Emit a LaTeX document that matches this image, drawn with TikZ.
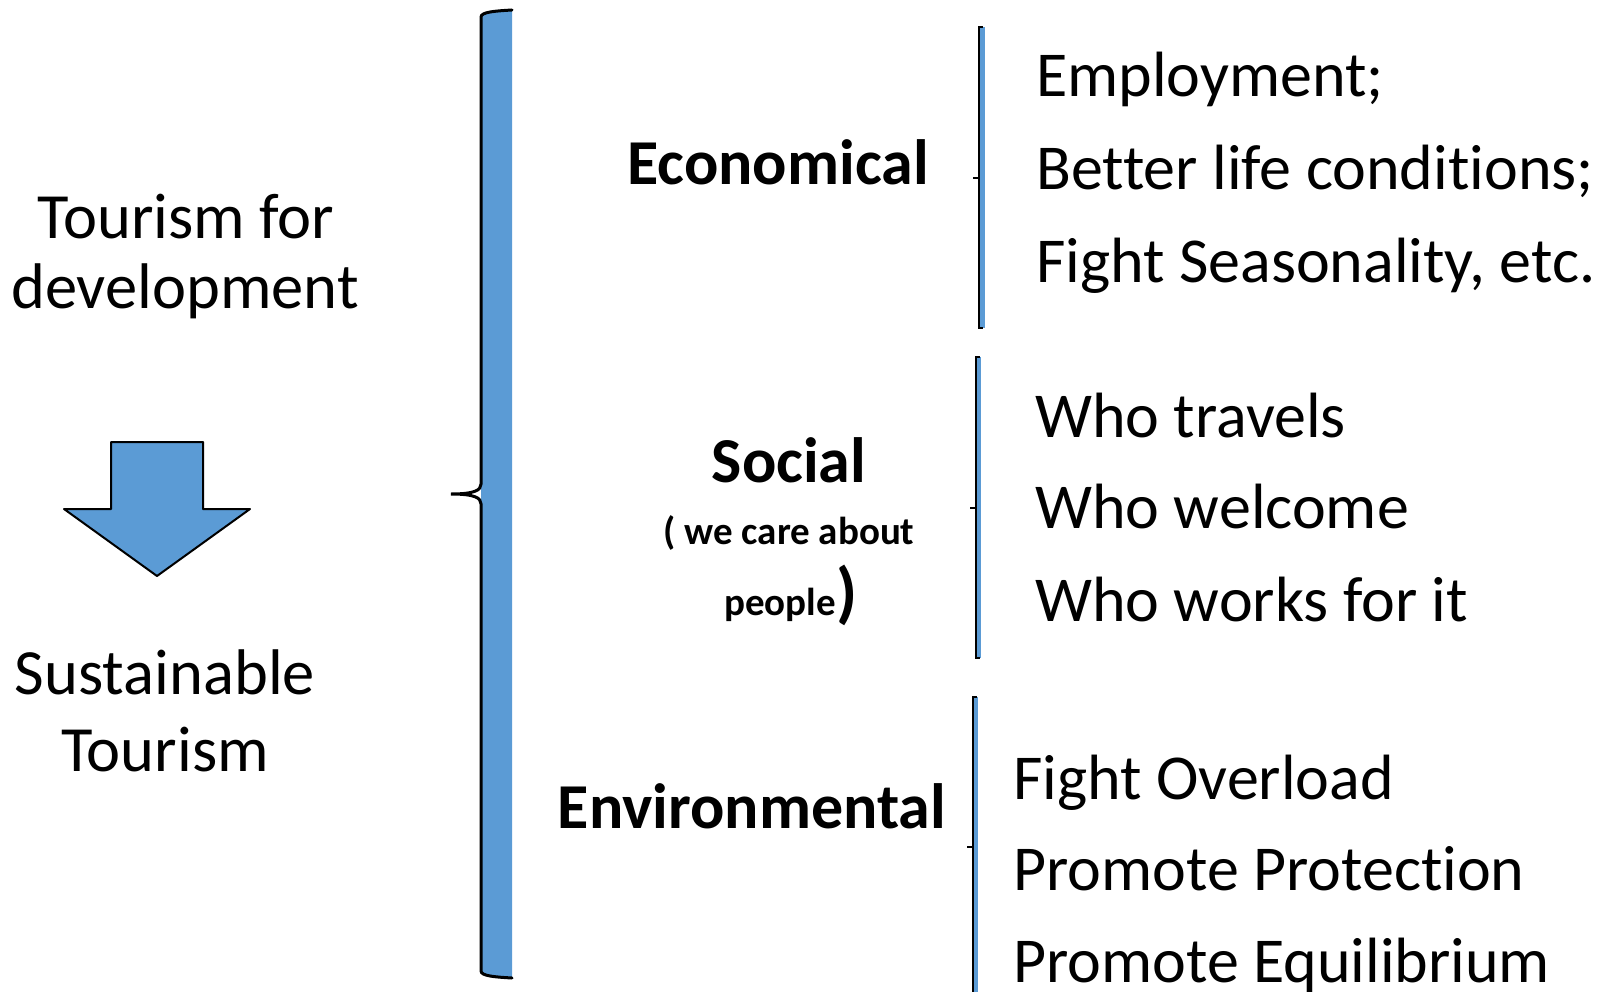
\documentclass[tikz,border=0pt]{standalone}
\usepackage{fontspec}
\setmainfont{Carlito}[Ligatures={NoCommon,NoContextual}, RawFeature={-liga;-clig;-calt;-dlig}]
\definecolor{bblue}{HTML}{5B9BD5}
\begin{document}
\begin{tikzpicture}[x=1pt,y=-1pt,
  big/.style={inner sep=0pt, anchor=base, font=\fontsize{64.5}{70}\selectfont},
  item/.style={inner sep=0pt, anchor=base west, font=\fontsize{64}{70}\selectfont},
  head/.style={inner sep=0pt, anchor=base, font=\fontsize{64}{70}\selectfont\bfseries},
  small/.style={inner sep=0pt, anchor=base, font=\fontsize{39}{45}\selectfont\bfseries},
  outl/.style={draw=black, line width=2pt, line join=round}]
\useasboundingbox (0,0) rectangle (1613,992);

% left texts
\node[big] (t1) at (186,239) {Tourism for};
\node[big] (t2) at (185,308) {development};
\node[big] (s1) at (165,694) {Sustainable};
\node[big] (s2) at (165,771) {Tourism};

% down arrow
\filldraw[fill=bblue, outl] (111,442) -- (203,442) -- (203,509) -- (250,509) -- (157,576) -- (64,509) -- (111,509) -- cycle;

% big brace
\fill[bblue] (481,16) .. controls (481,12) and (495,11) .. (512,10) -- (512,978) .. controls (495,977) and (481,976) .. (481,972) -- cycle;
\draw[line width=3pt, line cap=round] (512,10) .. controls (495,11) and (481,12) .. (481,17)
  -- (481,484) .. controls (481,490) and (475,494) .. (451,494)
  .. controls (475,494) and (481,498) .. (481,504)
  -- (481,971) .. controls (481,976) and (495,977) .. (512,978);

% small braces
\foreach \xl/\yt/\yb/\ym in {979/27/328/178, 975.7/357/658/508, 972.7/697/1000/847} {
  \fill[bblue] (\xl,\yt) rectangle (\xl+5.5,\yb);
  \draw[line width=2pt] (\xl+4,\yt) -- (\xl,\yt) -- (\xl,\yb) -- (\xl+4,\yb);
  \draw[line width=2.5pt] (\xl,\ym) -- (\xl-6,\ym);
}

% headings
\node[head] (eco) at (778,185) {Economical};
\node[head] (soc) at (789,482) {Social};
\node[small] (care) at (789,544) {( we care about};
\node[small, anchor=base east] (ppl) at (836,615) {people};
\node[inner sep=0pt, anchor=base west, font=\fontsize{68}{70}\selectfont\bfseries] (par) at (ppl.base east) {)};
\node[head] (env) at (752,828) {Environmental};

% items
\node[item] (e1) at (1036,97) {Employment;};
\node[item] (e2) at (1036,190) {Better life condi\kern0pt tions;};
\node[item] (e3) at (1036,282) {Fight Seasonality, etc.};
\node[item] (w1) at (1035,437) {Who travels};
\node[item] (w2) at (1035,528) {Who welcome};
\node[item] (w3) at (1035,621) {Who works for it};
\node[item] (v1) at (1013,799) {Fight Overload};
\node[item] (v2) at (1013,890) {Promote Protec\kern0pt tion};
\node[item] (v3) at (1013,982) {Promote Equilibrium};
\end{tikzpicture}
\end{document}
